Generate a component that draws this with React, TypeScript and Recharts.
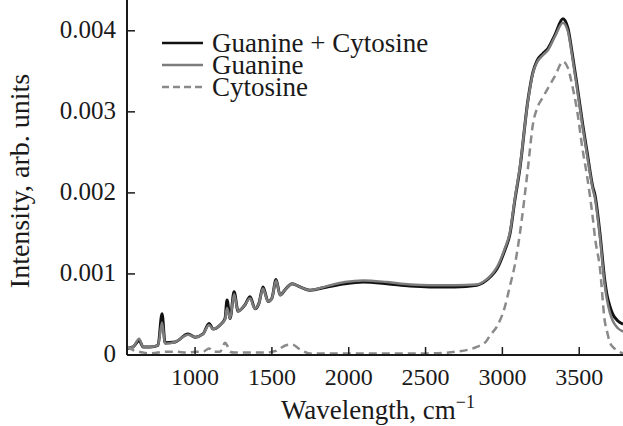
import { Line, LineChart, XAxis, YAxis } from "recharts";

const wavenumbers = [
  558, 597, 636, 662, 707, 759, 785, 805, 870, 954,
  1000, 1052, 1091, 1117, 1163, 1195, 1208, 1228, 1254, 1280,
  1325, 1358, 1390, 1416, 1442, 1475, 1500, 1527, 1553, 1592,
  1631, 1683, 1748, 1859, 1976, 2093, 2249, 2399, 2529, 2691,
  2834, 2895, 2919, 2964, 3017, 3049, 3082, 3114, 3166, 3199,
  3225, 3264, 3296, 3342, 3394, 3427, 3453, 3485, 3524, 3550,
  3589, 3602, 3635, 3667, 3680, 3700, 3719, 3752, 3785,
];

const guanineCytosine = [
  0.00008, 0.0001, 0.00018, 0.0001, 0.0001, 0.00012, 0.00051, 0.00015, 0.00016, 0.00026,
  0.00022, 0.00026, 0.00039, 0.00032, 0.00037, 0.00045, 0.00068, 0.00045, 0.00078, 0.00054,
  0.00062, 0.00072, 0.00057, 0.00064, 0.00084, 0.00066, 0.0007, 0.00093, 0.00074, 0.00082,
  0.00088, 0.00084, 0.0008, 0.00084, 0.00088, 0.0009, 0.00088, 0.00085, 0.00084, 0.00084,
  0.00086, 0.00092, 0.00096, 0.00106, 0.0013, 0.00149, 0.00192, 0.0023, 0.00314, 0.00349,
  0.00363, 0.00372, 0.00378, 0.00395, 0.00415, 0.00403, 0.00374, 0.00334, 0.00283, 0.00252,
  0.00207, 0.00198, 0.0015, 0.00091, 0.00075, 0.0006, 0.0005, 0.00042, 0.00038,
];

const guanine = [
  0.00008, 0.0001, 0.0002, 0.0001, 0.0001, 0.00012, 0.0004, 0.00014, 0.00016, 0.00025,
  0.00022, 0.00026, 0.00037, 0.00032, 0.00037, 0.00044, 0.00058, 0.00045, 0.00075, 0.00054,
  0.00062, 0.0007, 0.00057, 0.00064, 0.00082, 0.00066, 0.0007, 0.00092, 0.00074, 0.00082,
  0.00088, 0.00084, 0.0008, 0.00085, 0.0009, 0.00092, 0.0009, 0.00087, 0.00086, 0.00086,
  0.00087, 0.00093, 0.00097, 0.00108, 0.00132, 0.00151, 0.00194, 0.00232, 0.00313, 0.00348,
  0.00361, 0.0037, 0.00376, 0.00393, 0.0041, 0.00399, 0.0037, 0.0033, 0.00279, 0.00248,
  0.00204, 0.00194, 0.00145, 0.00085, 0.00069, 0.00052, 0.00042, 0.00033, 0.00029,
];

const cytosine = [
  0.0001, 0.00006, 0.00004, 0.00003, 0.00002, 0.00003, 0.00004, 0.00004, 0.00004, 0.00003,
  0.00004, 0.00004, 0.00008, 0.00004, 0.00004, 0.00015, 0.00012, 0.00004, 0.00003, 0.00003,
  0.00003, 0.00003, 0.00003, 0.00003, 0.00003, 0.00003, 0.00004, 0.00005, 0.00008, 0.00012,
  0.00013, 0.00007, 0.00002, 0.00002, 0.00002, 0.00002, 0.00002, 0.00002, 0.00002, 0.00004,
  0.0001, 0.00017, 0.00024, 0.00035, 0.0006, 0.00085, 0.00112, 0.0015, 0.0023, 0.00285,
  0.00304, 0.00318, 0.00329, 0.00344, 0.00362, 0.00354, 0.00334, 0.00303, 0.00251, 0.00222,
  0.00168, 0.00146, 0.00107, 0.00041, 0.0003, 0.00015, 0.0001, 0.00005, 0.00002,
];

const xTicks = [1000, 1500, 2000, 2500, 3000, 3500];
const yTicks = [0, 0.001, 0.002, 0.003, 0.004];

const seriesNames = ["Guanine + Cytosine", "Guanine", "Cytosine"];

const FONT = '"Liberation Serif", "Times New Roman", serif';
const INK = "#1a1a1a";
const BLACK = "#111";
const GREY = "#7c7c7c";
const DASH_GREY = "#8a8a8a";

const data = wavenumbers.map((w, i) => ({
  w,
  gc: guanineCytosine[i],
  g: guanine[i],
  c: cytosine[i],
}));

function XTick({ x, y, payload }: any) {
  return (
    <g>
      <line x1={x} x2={x} y1={y} y2={y - 8} stroke={INK} strokeWidth={1.5} />
      <text x={x} y={y + 30} textAnchor="middle" fontFamily={FONT} fontSize={24} fill={INK}>
        {payload.value}
      </text>
    </g>
  );
}

function YTick({ x, y, payload }: any) {
  const v = payload.value as number;
  return (
    <g>
      <line x1={x} x2={x + 8} y1={y} y2={y} stroke={INK} strokeWidth={1.5} />
      <text x={x - 11} y={y + 7} textAnchor="end" fontFamily={FONT} fontSize={25} fill={INK}>
        {v === 0 ? "0" : v.toFixed(3)}
      </text>
    </g>
  );
}

// legend + axis titles drawn on top of the chart
function Overlay() {
  const rows = [
    { name: seriesNames[0], color: BLACK, dash: undefined, y: 43 },
    { name: seriesNames[1], color: GREY, dash: undefined, y: 65 },
    { name: seriesNames[2], color: DASH_GREY, dash: "7 4", y: 87 },
  ];
  return (
    <svg width={623} height={426} style={{ position: "absolute", left: 0, top: 0, pointerEvents: "none" }}>
      {rows.map((r) => (
        <g key={r.name}>
          <line x1={162} x2={203} y1={r.y} y2={r.y} stroke={r.color} strokeWidth={2.5} strokeDasharray={r.dash} />
          <text x={212} y={r.y + 9} fontFamily={FONT} fontSize={27} fill={INK}>
            {r.name}
          </text>
        </g>
      ))}
      <text
        x={29}
        y={181}
        transform="rotate(-90 29 181)"
        textAnchor="middle"
        fontFamily={FONT}
        fontSize={28}
        fill={INK}
      >
        Intensity, arb. units
      </text>
      <text x={378} y={419} textAnchor="middle" fontFamily={FONT} fontSize={27} fill={INK}>
        Wavelength, cm
        <tspan dy={-11} fontSize={18}>
          −1
        </tspan>
      </text>
    </svg>
  );
}

export default function App() {
  return (
    <div style={{ position: "absolute", left: 0, top: 0, width: 623, height: 426, background: "#fff" }}>
      <LineChart width={623} height={426} data={data} margin={{ top: 0, right: 0, bottom: 0, left: 0 }}>
        <XAxis
          dataKey="w"
          type="number"
          domain={[557, 3785]}
          ticks={xTicks}
          height={71}
          tickSize={0}
          tickMargin={0}
          tick={<XTick />}
          axisLine={{ stroke: INK, strokeWidth: 2 }}
          allowDataOverflow
        />
        <YAxis
          type="number"
          domain={[0, 0.00438]}
          ticks={yTicks}
          width={127}
          tickSize={0}
          tickMargin={0}
          tick={<YTick />}
          axisLine={{ stroke: INK, strokeWidth: 2 }}
          allowDataOverflow
        />
        <Line dataKey="gc" name={seriesNames[0]} type="monotone" stroke={BLACK} strokeWidth={3} dot={false} isAnimationActive={false} />
        <Line dataKey="g" name={seriesNames[1]} type="monotone" stroke={GREY} strokeWidth={2.5} dot={false} isAnimationActive={false} />
        <Line
          dataKey="c"
          name={seriesNames[2]}
          type="monotone"
          stroke={DASH_GREY}
          strokeWidth={2.5}
          strokeDasharray="8 5"
          dot={false}
          isAnimationActive={false}
        />
      </LineChart>
      <Overlay />
    </div>
  );
}
